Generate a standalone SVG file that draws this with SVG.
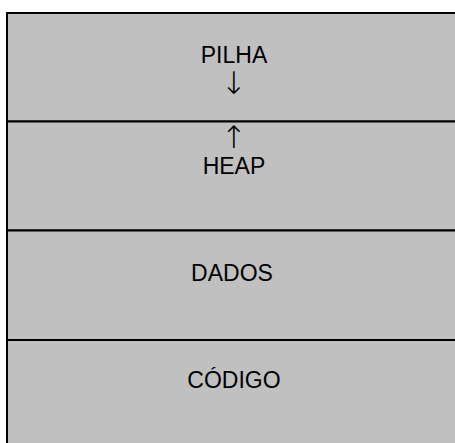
<svg xmlns="http://www.w3.org/2000/svg" width="455" height="443" viewBox="0 0 455 443">
<style>
.cell{fill:#c0c0c0;stroke:#000;stroke-width:2}
.t{font-family:"Liberation Sans",Arial,sans-serif;font-size:23px;fill:#000;text-anchor:middle}
.a{font-family:"DejaVu Sans",sans-serif;font-weight:200;font-size:31px;fill:#000;text-anchor:middle}
</style>
<rect width="455" height="443" fill="#fff"/>
<g id="pilha">
<rect class="cell" x="7" y="13" width="460" height="108.5"/>
<text class="t" x="234" y="63">PILHA</text>
<text class="a" x="234" y="94">↓</text>
</g>
<g id="heap">
<rect class="cell" x="7" y="121.5" width="460" height="109"/>
<text class="a" x="234" y="148">↑</text>
<text class="t" x="234" y="174">HEAP</text>
</g>
<g id="dados">
<rect class="cell" x="7" y="230.5" width="460" height="109.5"/>
<text class="t" x="232" y="281">DADOS</text>
</g>
<g id="codigo">
<rect class="cell" x="7" y="340" width="460" height="109"/>
<text class="t" x="234" y="388">CÓDIGO</text>
</g>
<g id="connectors"/>
</svg>
